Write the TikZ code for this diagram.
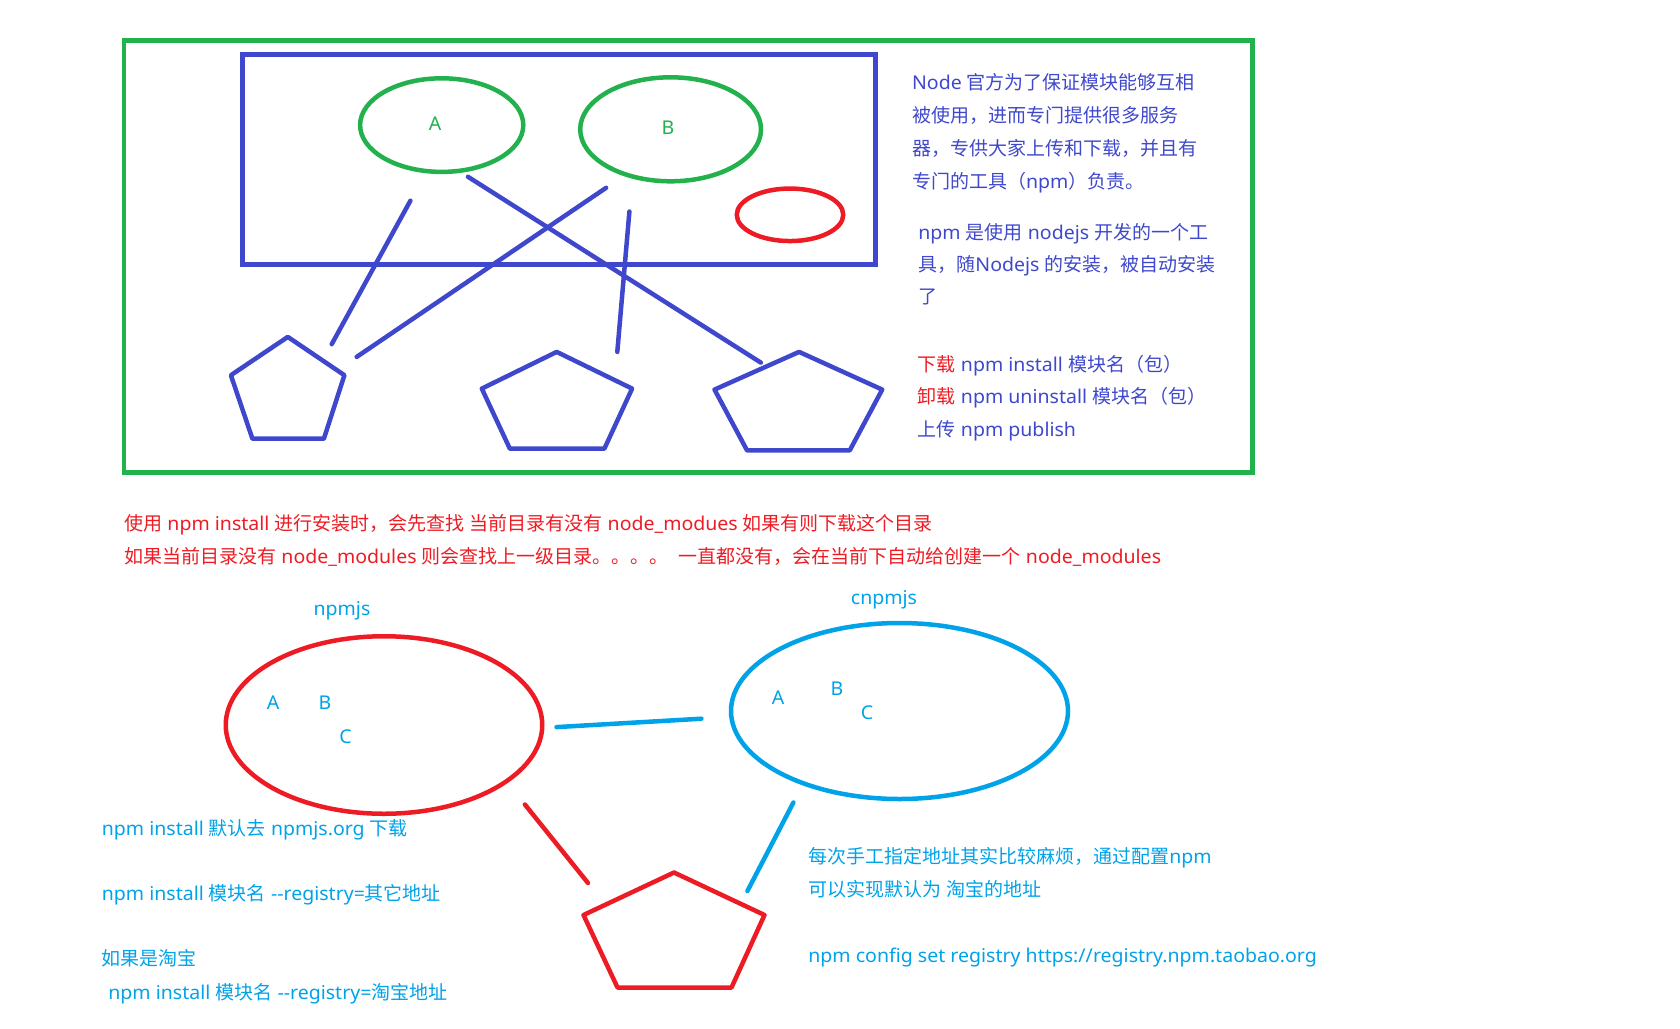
\documentclass[tikz,border=0pt]{standalone}
\usepackage{fontspec}
\newfontfamily\cjk{Noto Sans CJK SC}
\newfontfamily\lat{Noto Sans}[FakeStretch=1.028]
\usetikzlibrary{shapes.geometric}
\definecolor{pblue}{RGB}{63,72,204}
\definecolor{pgreen}{RGB}{34,177,76}
\definecolor{pred}{RGB}{237,28,36}
\definecolor{pcyan}{RGB}{0,162,232}
% automatic switch between Latin and CJK fonts
\XeTeXinterchartokenstate=1
\newXeTeXintercharclass\CJKcls
\newcount\cjkcnt
\def\setcjkrange#1#2{\cjkcnt=#1\relax
  \loop\XeTeXcharclass\cjkcnt=\CJKcls\relax
  \ifnum\cjkcnt<#2\relax\advance\cjkcnt by 1\relax\repeat}
\setcjkrange{"3000}{"303F}
\setcjkrange{"4E00}{"9FFF}
\setcjkrange{"FF00}{"FFEF}
\XeTeXinterchartoks 0 \CJKcls = {\cjk}
\XeTeXinterchartoks 4095 \CJKcls = {\cjk}
\XeTeXinterchartoks \CJKcls 0 = {\lat}
\XeTeXinterchartoks \CJKcls 4095 = {\lat}
\begin{document}
\begin{tikzpicture}[x=0.5pt,y=-0.5pt,
  stroke/.style={line width=2.25pt,line cap=round,line join=round},
  oval/.style={ellipse,draw,line width=2.25pt,inner sep=0pt},
  txt/.style={anchor=base west,inner sep=0pt,font=\lat\fontsize{9.5}{11}\selectfont},
  lbl/.style={inner sep=0pt,font=\lat\fontsize{9.5}{11}\selectfont}]
\useasboundingbox (0,0) rectangle (1680,1028);

% frames
\draw[pgreen,line width=2.4pt] (124,40.5) rectangle (1252.5,472.5);
\draw[pblue,line width=2.5pt] (242.5,54.5) rectangle (875,264);

% top ovals
\node[oval,pgreen,minimum width=81.6pt,minimum height=46.8pt] (ovA) at (441.7,125.1) {};
\node[oval,pgreen,minimum width=90.4pt,minimum height=52pt] (ovB) at (670.6,129.3) {};
\node[oval,pred,minimum width=53.25pt,minimum height=26.25pt] (ovR) at (790,214.8) {};
\node[lbl,pgreen] (labA) at (435.2,124) {A};
\node[lbl,pgreen] (labB) at (667.9,127.4) {B};

% pentagons (top)
\coordinate (p1a) at (287.8,336.9); \coordinate (p1b) at (344.4,375.2);
\coordinate (p1c) at (323.9,438.7); \coordinate (p1d) at (252.4,438.7);
\coordinate (p1e) at (230.9,375.2);
\draw[stroke,pblue] (p1a) -- (p1b) -- (p1c) -- (p1d) -- (p1e) -- cycle;
\coordinate (p2a) at (556.7,351.9); \coordinate (p2b) at (632.1,388.6);
\coordinate (p2c) at (604.4,448.6); \coordinate (p2d) at (509.8,448.6);
\coordinate (p2e) at (481.8,388.6);
\draw[stroke,pblue] (p2a) -- (p2b) -- (p2c) -- (p2d) -- (p2e) -- cycle;
\coordinate (p3a) at (799.1,351.9); \coordinate (p3b) at (882.2,389.6);
\coordinate (p3c) at (849.8,450.3); \coordinate (p3d) at (747,450.3);
\coordinate (p3e) at (714.5,389.6);
\draw[stroke,pblue] (p3a) -- (p3b) -- (p3c) -- (p3d) -- (p3e) -- cycle;

% top connectors
\coordinate (l1s) at (410.4,200.7); \coordinate (l1e) at (331.7,344.2);
\coordinate (l2s) at (606.1,187.8); \coordinate (l2e) at (356.7,356.9);
\coordinate (l3s) at (468,176.8);   \coordinate (l3e) at (760.8,362.6);
\coordinate (l4s) at (629.4,211.5); \coordinate (l4e) at (617.3,351.9);
\draw[stroke,pblue] (l1s) -- (l1e);
\draw[stroke,pblue] (l2s) -- (l2e);
\draw[stroke,pblue] (l3s) -- (l3e);
\draw[stroke,pblue] (l4s) -- (l4e);

% right text blocks
\node[txt,pblue] (t11) at (911.7,89.5) {Node 官方为了保证模块能够互相};
\node[txt,pblue] (t12) at (911.7,122.5) {被使用，进而专门提供很多服务};
\node[txt,pblue] (t13) at (911.7,155.5) {器，专供大家上传和下载，并且有};
\node[txt,pblue] (t14) at (911.7,188.5) {专门的工具（npm）负责。};
\node[txt,pblue] (t21) at (918,239.5) {npm 是使用 nodejs 开发的一个工};
\node[txt,pblue] (t22) at (918,271.5) {具，随Nodejs 的安装，被自动安装};
\node[txt,pblue] (t23) at (918,303.5) {了};
\node[txt,pblue] (t31) at (917.5,371) {\textcolor{pred}{下载} npm install 模块名（包）};
\node[txt,pblue] (t32) at (917.5,403.5) {\textcolor{pred}{卸载} npm uninstall 模块名（包）};
\node[txt,pblue] (t33) at (917.5,436) {上传 npm publish};

% middle red text
\node[txt,pred] (m1) at (124,530.5) {使用 npm install 进行安装时，会先查找 当前目录有没有 node\_modues 如果有则下载这个目录};
\node[txt,pred] (m2) at (124,563) {如果当前目录没有 node\_modules 则会查找上一级目录。。。。\ \ 一直都没有，会在当前下自动给创建一个 node\_modules};

% bottom ovals
\node[lbl,pcyan,anchor=base] (npmjs) at (342,615) {npmjs};
\node[lbl,pcyan,anchor=base] (cnpmjs) at (884,604) {cnpmjs};
\node[oval,pred,minimum width=158.25pt,minimum height=88.75pt] (ovN) at (384,725) {};
\node[oval,pcyan,minimum width=168.5pt,minimum height=88pt] (ovC) at (899.5,711) {};
\node[lbl,pcyan] (nA) at (273,703) {A};
\node[lbl,pcyan] (nB) at (325,703) {B};
\node[lbl,pcyan] (nC) at (345.5,737) {C};
\node[lbl,pcyan] (cA) at (778,698) {A};
\node[lbl,pcyan] (cB) at (837,688.5) {B};
\node[lbl,pcyan] (cC) at (867,713) {C};

% red pentagon
\coordinate (q1) at (674,872.5); \coordinate (q2) at (764.5,915);
\coordinate (q3) at (731.5,987.5); \coordinate (q4) at (617.5,987.5);
\coordinate (q5) at (583.5,915);
\draw[stroke,pred] (q1) -- (q2) -- (q3) -- (q4) -- (q5) -- cycle;

% bottom connectors
\coordinate (b1s) at (556.5,727.1); \coordinate (b1e) at (701.4,718.7);
\coordinate (b2s) at (524.9,804.5); \coordinate (b2e) at (588,883);
\coordinate (b3s) at (793.4,802.5); \coordinate (b3e) at (747.4,891);
\draw[stroke,pcyan] (b1s) -- (b1e);
\draw[stroke,pred] (b2s) -- (b2e);
\draw[stroke,pcyan] (b3s) -- (b3e);

% bottom texts
\node[txt,pcyan] (bl1) at (101.5,835) {npm install 默认去 npmjs.org 下载};
\node[txt,pcyan] (bl2) at (101.5,900.5) {npm install 模块名 --registry=其它地址};
\node[txt,pcyan] (bl3) at (101.5,965.5) {如果是淘宝};
\node[txt,pcyan] (bl4) at (108,999) {npm install 模块名 --registry=淘宝地址};
\node[txt,pcyan] (br1) at (808,863) {每次手工指定地址其实比较麻烦，通过配置npm};
\node[txt,pcyan] (br2) at (808,896) {可以实现默认为 淘宝的地址};
\node[txt,pcyan] (br3) at (808,962) {npm config set registry https://registry.npm.taobao.org};
\end{tikzpicture}
\end{document}
